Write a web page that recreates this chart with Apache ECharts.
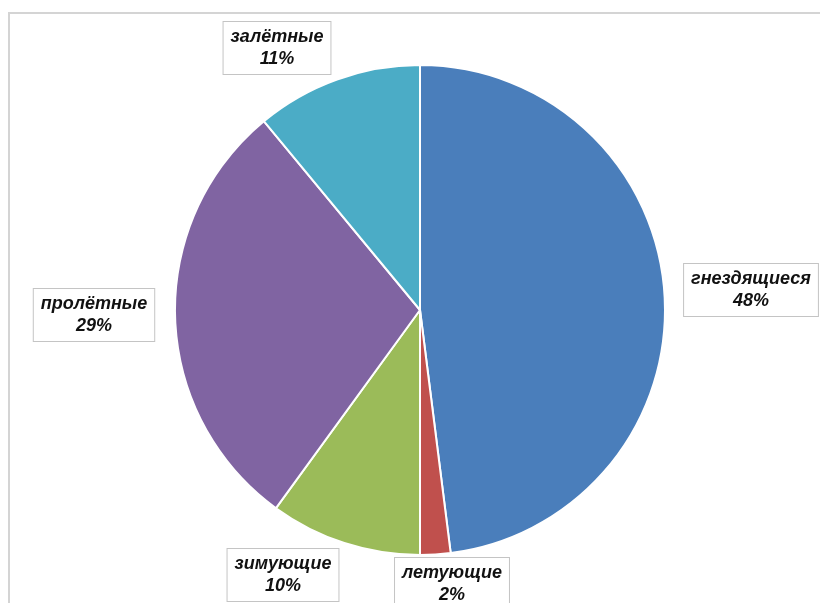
<!DOCTYPE html>
<html>
<head>
<meta charset="utf-8">
<style>
  html, body { margin: 0; padding: 0; background: #fff; }
  #chart { width: 820px; height: 603px; }
</style>
<script src="https://cdn.jsdelivr.net/npm/echarts@6/dist/echarts.min.js"></script>
</head>
<body>
<div id="chart"></div>
<script>
// Bird status groups and their share, percent
const categories = ['гнездящиеся', 'летующие', 'зимующие', 'пролётные', 'залётные'];
const shares = [48, 2, 10, 29, 11];
const colors = ['#4a7ebb', '#c0504d', '#9bbb59', '#8064a2', '#4bacc6'];

// Label box centres, in pixels, one per slice
const labelSpots = [
  [751, 290],
  [452, 584],
  [283, 575],
  [94, 315],
  [277, 48]
];

const chart = echarts.init(document.getElementById('chart'));

chart.setOption({
  animation: false,
  backgroundColor: '#fff',
  graphic: [
    {
      type: 'polyline',
      shape: { points: [[9, 610], [9, 13], [830, 13]] },
      style: { stroke: '#d4d4d4', lineWidth: 2, fill: null },
      silent: true
    }
  ],
  series: [{
    type: 'pie',
    center: [420, 310],
    radius: 245,
    startAngle: 90,
    clockwise: true,
    avoidLabelOverlap: false,
    data: categories.map((name, i) => ({
      name,
      value: shares[i],
      itemStyle: { color: colors[i] }
    })),
    itemStyle: { borderColor: '#fff', borderWidth: 2 },
    label: {
      show: true,
      position: 'outside',
      formatter: '{b}\n{c}%',
      fontFamily: 'Liberation Sans, Arial, sans-serif',
      fontStyle: 'italic',
      fontWeight: 'bold',
      fontSize: 18,
      lineHeight: 22,
      color: '#111',
      align: 'center',
      backgroundColor: '#fff',
      borderColor: '#c4c4c4',
      borderWidth: 1,
      padding: [4, 7, 4, 7]
    },
    labelLine: { show: false },
    labelLayout: function (params) {
      const p = labelSpots[params.dataIndex];
      return { x: p[0], y: p[1], align: 'center', verticalAlign: 'middle' };
    }
  }]
});
</script>
</body>
</html>
